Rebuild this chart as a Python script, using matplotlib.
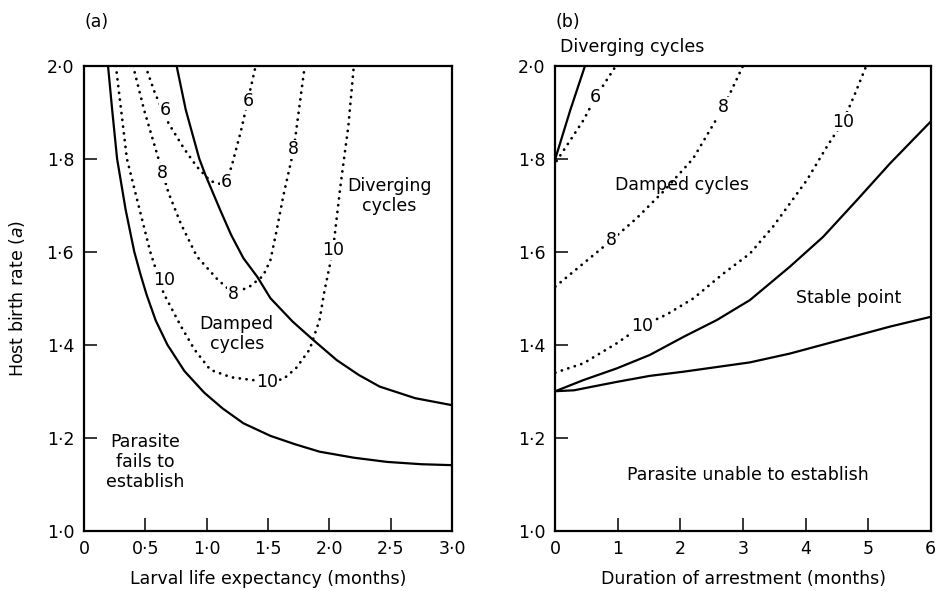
import matplotlib
matplotlib.use("Agg")
import matplotlib.pyplot as plt

plt.rcParams['font.family'] = ['DejaVu Sans']

# ---------------- panel (a): larval life expectancy ----------------
a_xticks = [0, 0.5, 1.0, 1.5, 2.0, 2.5, 3.0]
a_xticklabels = ["0", "0·5", "1·0", "1·5", "2·0", "2·5", "3·0"]
yticks = [1.0, 1.2, 1.4, 1.6, 1.8, 2.0]
yticklabels = ["1·0", "1·2", "1·4", "1·6", "1·8", "2·0"]

# boundary: parasite establishment
a_est_x = [0.196, 0.23, 0.27, 0.34, 0.41, 0.46, 0.51, 0.585, 0.68, 0.82, 0.98, 1.13, 1.30, 1.52,
           1.72, 1.92, 2.2, 2.47, 2.75, 3.0]
a_est_y = [2.0, 1.905, 1.8, 1.69, 1.6, 1.552, 1.508, 1.452, 1.40, 1.343, 1.297, 1.263, 1.231, 1.204,
           1.186, 1.17, 1.157, 1.148, 1.143, 1.141]
# boundary: damped / diverging cycles
a_div_x = [0.755, 0.83, 0.94, 0.99, 1.11, 1.20, 1.30, 1.413, 1.52, 1.70, 1.87, 2.06, 2.24, 2.41,
           2.7, 3.0]
a_div_y = [2.0, 1.905, 1.8, 1.765, 1.69, 1.636, 1.586, 1.546, 1.50, 1.45, 1.41, 1.367, 1.335, 1.31,
           1.285, 1.27]

# cycle-period contours (months)
a_c6_x = [0.50, 0.58, 0.69, 0.815, 0.92, 1.03, 1.12, 1.20, 1.28, 1.34, 1.40]
a_c6_y = [2.0, 1.94, 1.876, 1.822, 1.783, 1.752, 1.745, 1.78, 1.86, 1.93, 2.0]
a_c8_x = [0.40, 0.49, 0.585, 0.69, 0.79, 0.92, 1.09, 1.22, 1.35, 1.46, 1.52, 1.57, 1.625, 1.71,
          1.80]
a_c8_y = [2.0, 1.905, 1.82, 1.726, 1.66, 1.59, 1.54, 1.51, 1.525, 1.548, 1.582, 1.645, 1.72,
          1.82, 2.0]
a_c10_x = [0.26, 0.35, 0.435, 0.54, 0.65, 0.79, 0.90, 1.03, 1.20, 1.49, 1.625, 1.73, 1.84, 1.92,
           1.96, 2.03, 2.09, 2.155, 2.20]
a_c10_y = [2.0, 1.80, 1.71, 1.60, 1.51, 1.44, 1.39, 1.346, 1.33, 1.32, 1.326, 1.35, 1.39, 1.453,
           1.515, 1.604, 1.74, 1.87, 2.0]

a_labels = [("6", 0.666, 1.905), ("6", 1.34, 1.925), ("6", 1.16, 1.749),
            ("8", 0.64, 1.77), ("8", 1.22, 1.51), ("8", 1.71, 1.82),
            ("10", 0.65, 1.539), ("10", 1.49, 1.32), ("10", 2.03, 1.604)]

# ---------------- panel (b): duration of arrestment ----------------
b_xticks = [0, 1, 2, 3, 4, 5, 6]
b_xticklabels = ["0", "1", "2", "3", "4", "5", "6"]

b_div_x = [0.0, 0.24, 0.475]
b_div_y = [1.80, 1.905, 2.0]
b_stab_x = [0.0, 0.45, 0.98, 1.51, 2.05, 2.58, 3.11, 3.75, 4.28, 4.82, 5.35, 6.0]
b_stab_y = [1.30, 1.324, 1.349, 1.378, 1.417, 1.453, 1.496, 1.568, 1.632, 1.711, 1.79, 1.88]
b_est_x = [0.0, 0.3, 0.6, 0.98, 1.51, 2.05, 2.58, 3.11, 3.75, 4.55, 5.35, 6.0]
b_est_y = [1.30, 1.302, 1.31, 1.32, 1.333, 1.342, 1.352, 1.362, 1.381, 1.41, 1.439, 1.46]

b_c6_x = [0.02, 0.26, 0.45, 0.635, 0.82, 0.97]
b_c6_y = [1.795, 1.844, 1.883, 1.93, 1.969, 2.0]
b_c8_x = [0.0, 0.45, 0.90, 1.30, 1.73, 2.2, 2.685, 3.0]
b_c8_y = [1.525, 1.575, 1.625, 1.672, 1.73, 1.80, 1.91, 2.0]
b_c10_x = [0.0, 0.45, 0.98, 1.38, 1.78, 2.21, 2.685, 3.11, 3.48, 4.02, 4.34, 4.60, 4.79, 4.97]
b_c10_y = [1.34, 1.36, 1.403, 1.44, 1.465, 1.50, 1.553, 1.596, 1.654, 1.754, 1.826, 1.88, 1.94, 2.0]

b_labels = [("6", 0.635, 1.933), ("8", 2.685, 1.912), ("8", 0.90, 1.625),
            ("10", 4.60, 1.88), ("10", 1.38, 1.44)]

FS = 12.5
SOLID = dict(color="black", lw=1.6, solid_capstyle="round", solid_joinstyle="round")
DOTTED = dict(color="black", lw=2.0, linestyle=(0, (0.05, 2.4)), dash_capstyle="round")
LBL_BOX = dict(fc="white", ec="none", pad=0.6)

fig = plt.figure(figsize=(9.36, 5.91), dpi=100)
ax_a = fig.add_axes([0.0897, 0.102, 0.3932, 0.7868])
ax_b = fig.add_axes([0.5933, 0.102, 0.4011, 0.7868])


def style_axes(ax, xticks, xlabels, xmax):
    ax.set_xlim(0, xmax)
    ax.set_ylim(1.0, 2.0)
    ax.set_xticks(xticks)
    ax.set_xticklabels(xlabels)
    ax.set_yticks(yticks)
    ax.set_yticklabels(yticklabels)
    ax.tick_params(direction="in", length=9.5, width=1.1, labelsize=FS, pad=7,
                   top=False, right=False)
    for sp in ax.spines.values():
        sp.set_linewidth(1.6)


# panel (a)
style_axes(ax_a, a_xticks, a_xticklabels, 3.0)
ax_a.plot(a_est_x, a_est_y, **SOLID)
ax_a.plot(a_div_x, a_div_y, **SOLID)
for xs, ys in [(a_c6_x, a_c6_y), (a_c8_x, a_c8_y), (a_c10_x, a_c10_y)]:
    ax_a.plot(xs, ys, **DOTTED)
for s, x, y in a_labels:
    ax_a.text(x, y, s, fontsize=FS, ha="center", va="center", bbox=LBL_BOX, zorder=5)
ax_a.text(2.49, 1.72, "Diverging\ncycles", fontsize=FS, ha="center", va="center", linespacing=1.15)
ax_a.text(1.245, 1.424, "Damped\ncycles", fontsize=FS, ha="center", va="center", linespacing=1.15)
ax_a.text(0.50, 1.148, "Parasite\nfails to\nestablish", fontsize=FS, ha="center", va="center",
          linespacing=1.15)
ax_a.set_xlabel("Larval life expectancy (months)", fontsize=FS, labelpad=8)
ax_a.set_ylabel("Host birth rate ($a$)", fontsize=FS, labelpad=14)
ax_a.text(0.034, 1.094, "(a)", transform=ax_a.transAxes, fontsize=FS, ha="center", va="center")

# panel (b)
style_axes(ax_b, b_xticks, b_xticklabels, 6.0)
ax_b.plot(b_div_x, b_div_y, **SOLID)
ax_b.plot(b_stab_x, b_stab_y, **SOLID)
ax_b.plot(b_est_x, b_est_y, **SOLID)
for xs, ys in [(b_c6_x, b_c6_y), (b_c8_x, b_c8_y), (b_c10_x, b_c10_y)]:
    ax_b.plot(xs, ys, **DOTTED)
for s, x, y in b_labels:
    ax_b.text(x, y, s, fontsize=FS, ha="center", va="center", bbox=LBL_BOX, zorder=5)
ax_b.text(0.075, 2.041, "Diverging cycles", fontsize=FS, ha="left", va="center", clip_on=False)
ax_b.text(2.02, 1.743, "Damped cycles", fontsize=FS, ha="center", va="center")
ax_b.text(4.68, 1.50, "Stable point", fontsize=FS, ha="center", va="center")
ax_b.text(3.085, 1.12, "Parasite unable to establish", fontsize=FS, ha="center", va="center")
ax_b.set_xlabel("Duration of arrestment (months)", fontsize=FS, labelpad=8)
ax_b.text(0.034, 1.094, "(b)", transform=ax_b.transAxes, fontsize=FS, ha="center", va="center")

fig.savefig("out.png", dpi=100)
